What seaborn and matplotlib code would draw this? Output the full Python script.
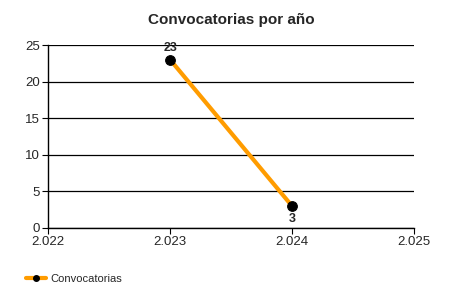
import matplotlib
matplotlib.use("Agg")
import matplotlib.pyplot as plt
import seaborn as sns
import pandas as pd
from matplotlib.ticker import FuncFormatter, MultipleLocator
from matplotlib.lines import Line2D

years = [2023, 2024]
values = [23, 3]
series_name = "Convocatorias"
title = "Convocatorias por año"

sns.set_style("white")
plt.rcParams['font.family'] = ['Liberation Sans', 'DejaVu Sans']

df = pd.DataFrame({"year": years, "value": values})

fig = plt.figure(figsize=(4.5, 3), dpi=100)
ax = fig.add_axes([0.107, 0.24, 0.813, 0.61])

orange = "#FF9C00"
sns.lineplot(data=df, x="year", y="value", ax=ax, color=orange, linewidth=3,
             marker="o", markersize=7, markerfacecolor="black", markeredgecolor="black",
             legend=False)

ax.set_xlim(2022, 2025)
ax.set_ylim(0, 25)
ax.xaxis.set_major_locator(MultipleLocator(1))
ax.yaxis.set_major_locator(MultipleLocator(5))
ax.xaxis.set_major_formatter(FuncFormatter(lambda v, p: f"{int(round(v)):,}".replace(",", ".")))
ax.yaxis.set_major_formatter(FuncFormatter(lambda v, p: f"{int(round(v))}"))
ax.grid(axis="y", color="black", linewidth=0.9)
ax.grid(axis="x", visible=False)
ax.set_axisbelow(True)
for s in ["top", "right"]:
    ax.spines[s].set_visible(False)
for s in ["left", "bottom"]:
    ax.spines[s].set_color("black")
    ax.spines[s].set_linewidth(1)
ax.tick_params(axis="both", which="major", length=4, color="black", labelsize=9.5, pad=2, direction="out",
               left=True, bottom=True)
ax.set_xlabel("")
ax.set_ylabel("")

for i, (x, y) in enumerate(zip(years, values)):
    if i == 0:
        ax.annotate(str(y), (x, y), xytext=(0, 4), textcoords="offset points", ha="center", va="bottom",
                    fontsize=9, fontweight="bold")
    else:
        ax.annotate(str(y), (x, y), xytext=(0, -5), textcoords="offset points", ha="center", va="top",
                    fontsize=9, fontweight="bold")

ax.set_title(title, fontsize=11, fontweight="bold", pad=15)

handle = Line2D([0], [0], color=orange, linewidth=3, marker="o", markersize=4,
                markerfacecolor="black", markeredgecolor="black")
fig.legend([handle], [series_name], loc="lower left", bbox_to_anchor=(0.035, 0.02), frameon=False,
           fontsize=8, handlelength=1.8, handletextpad=0.4)

fig.savefig("out.png", dpi=100)
